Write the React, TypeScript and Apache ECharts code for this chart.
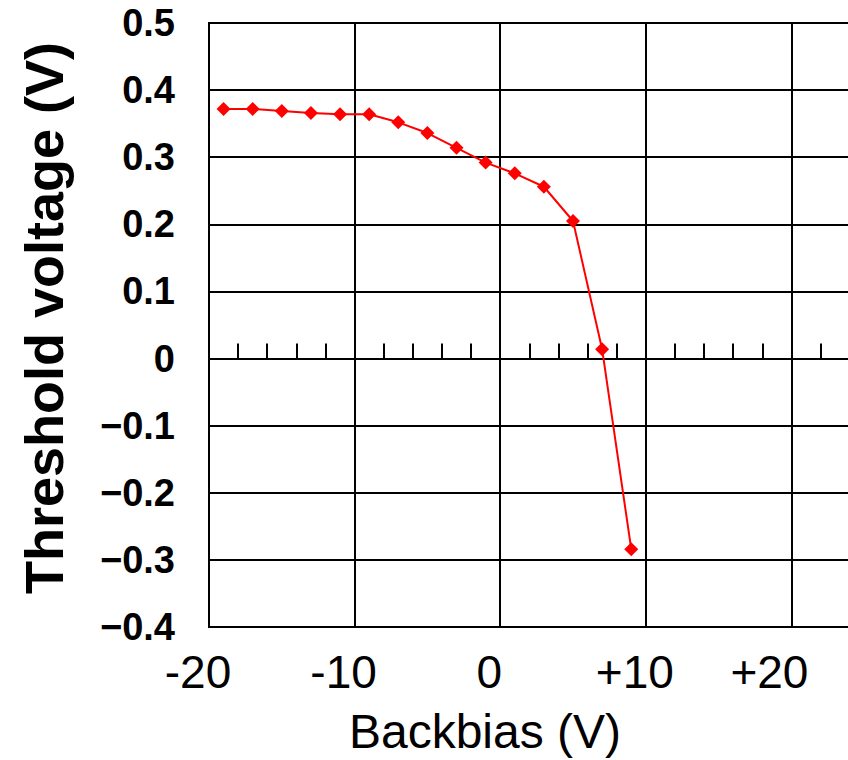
import React, { useEffect, useRef } from "react";
import * as echarts from "echarts";

const backbias = [-19, -17, -15, -13, -11, -9, -7, -5, -3, -1, 1, 3, 5, 7, 9];
const threshold = [0.372, 0.372, 0.369, 0.366, 0.364, 0.364, 0.352, 0.336, 0.314, 0.292, 0.276, 0.256, 0.205, 0.014, -0.284];
const xTitle = "Backbias (V)";
const yTitle = "Threshold voltage (V)";

const sans = "'Liberation Sans', Arial, sans-serif";

export default function App() {
  const ref = useRef<HTMLDivElement>(null);
  useEffect(() => {
    if (!ref.current) return;
    const chart = echarts.init(ref.current, undefined, { renderer: "svg" });
    const points = backbias.map((x, i) => [x, threshold[i]]);
    chart.setOption({
      animation: false,
      backgroundColor: "#fff",
      grid: {
        left: 209,
        top: 23,
        width: 728,
        height: 612,
        show: true,
        borderColor: "#000",
        borderWidth: 2,
      },
      xAxis: [
        {
          type: "value",
          min: -20,
          max: 30,
          interval: 10,
          position: "bottom",
          axisLine: { show: false, onZero: false },
          axisTick: { show: false },
          axisLabel: {
            show: true,
            showMaxLabel: false,
            margin: 22,
            fontSize: 46,
            fontFamily: sans,
            color: "#000",
            formatter: (v: number) => {
              const t = v > 0 ? "+" + v : String(v);
              return v >= 20 ? "{far|" + t + "}" : "{n|" + t + "}";
            },
            rich: {
              n: { fontSize: 46, fontFamily: sans, color: "#000", padding: [0, 22, 0, 0] },
              far: { fontSize: 46, fontFamily: sans, color: "#000", padding: [0, 44, 0, 0] },
            },
          },
          splitLine: { show: true, lineStyle: { color: "#000", width: 2 } },
          name: xTitle,
          nameLocation: "middle",
          nameGap: 80,
          nameTextStyle: { fontSize: 48, fontFamily: sans, color: "#000", padding: [0, 176, 0, 0] },
        },
        {
          type: "value",
          min: -20,
          max: 30,
          interval: 10,
          position: "bottom",
          axisLine: { show: true, onZero: true, lineStyle: { color: "#000", width: 2 } },
          axisTick: { show: true, inside: true, length: 15, lineStyle: { color: "#000", width: 2 } },
          minorTick: { show: true, splitNumber: 5, length: 15, lineStyle: { color: "#000", width: 2 } },
          axisLabel: { show: false },
          splitLine: { show: false },
        },
      ],
      yAxis: {
        type: "value",
        min: -0.4,
        max: 0.5,
        interval: 0.1,
        axisLine: { show: false },
        axisTick: { show: false },
        axisLabel: {
          margin: 34,
          fontSize: 38,
          fontWeight: "bold",
          fontFamily: sans,
          color: "#000",
          padding: [4, 0, 0, 0],
          formatter: (v: number) => {
            const r = Math.round(v * 10) / 10;
            if (r === 0) return "0";
            return r < 0 ? "\u2212" + Math.abs(r).toFixed(1) : r.toFixed(1);
          },
        },
        splitLine: { show: true, lineStyle: { color: "#000", width: 2 } },
      },
      graphic: [
        {
          type: "text",
          x: 44,
          y: 318,
          rotation: Math.PI / 2,
          style: {
            text: yTitle,
            fontSize: 54,
            fontWeight: "bold",
            fontFamily: sans,
            fill: "#000",
            textAlign: "center",
            textVerticalAlign: "middle",
          },
        },
      ],
      series: [
        {
          type: "line",
          xAxisIndex: 0,
          data: points,
          symbol: "diamond",
          symbolSize: 14,
          itemStyle: { color: "#ff0000" },
          lineStyle: { color: "#ff0000", width: 2 },
          z: 5,
        },
      ],
    });
    return () => chart.dispose();
  }, []);
  return (
    <div style={{ position: "fixed", left: 0, top: 0, width: 848, height: 760, overflow: "hidden", background: "#fff" }}>
      <div ref={ref} style={{ width: 960, height: 760 }} />
    </div>
  );
}
